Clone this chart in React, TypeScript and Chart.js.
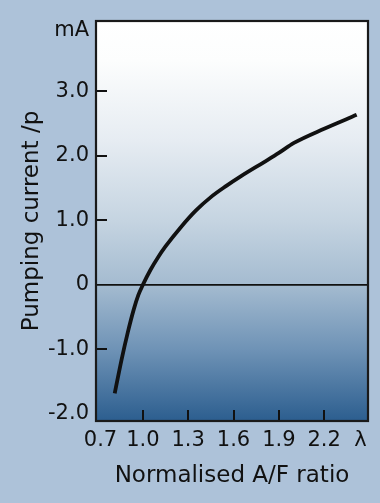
import React, { useEffect, useRef } from "react";
import { Chart, registerables } from "chart.js";

Chart.register(...registerables);

// Data
const lambdaValues = [0.814, 0.86, 0.9, 0.94, 0.97, 1.0, 1.05, 1.1, 1.15, 1.25, 1.35, 1.45, 1.55, 1.65, 1.8, 1.9, 2.0, 2.2, 2.415];
const pumpCurrent = [-1.68, -1.15, -0.74, -0.38, -0.16, 0.0, 0.23, 0.425, 0.595, 0.89, 1.15, 1.36, 1.53, 1.685, 1.9, 2.045, 2.2, 2.42, 2.635];

const xTickValues = [0.72, 1.0, 1.3, 1.6, 1.9, 2.2, 2.44];
const xTickLabels = ["0.7", "1.0", "1.3", "1.6", "1.9", "2.2", "λ"];
const xTickMarks = [1.0, 1.3, 1.6, 1.9, 2.2];

const yTickValues = [-2, -1, 0, 1, 2, 3, 3.94];
const yTickLabels = ["-2.0", "-1.0", "0", "1.0", "2.0", "3.0", "mA"];
const yTickMarks = [-1, 1, 2, 3];

const xTitle = "Normalised A/F ratio";
const yTitle = "Pumping current /p";

const FONT = "'DejaVu Sans', sans-serif";

const framePlugin = {
  id: "frame",
  beforeDatasetsDraw(chart: any) {
    const { ctx, chartArea: a, scales } = chart;
    ctx.save();
    const g = ctx.createLinearGradient(0, a.top, 0, a.bottom);
    g.addColorStop(0, "#ffffff");
    g.addColorStop(0.1, "#fcfdfd");
    g.addColorStop(0.3, "#e6ecf2");
    g.addColorStop(0.5, "#c5d4e1");
    g.addColorStop(0.66, "#a4bbd0");
    g.addColorStop(0.82, "#6f93b6");
    g.addColorStop(1, "#2c5e8f");
    ctx.fillStyle = g;
    ctx.fillRect(a.left, a.top, a.right - a.left, a.bottom - a.top);
    // zero line
    const y0 = scales.y.getPixelForValue(0);
    ctx.strokeStyle = "#111";
    ctx.lineWidth = 1.6;
    ctx.beginPath();
    ctx.moveTo(a.left, y0);
    ctx.lineTo(a.right, y0);
    ctx.stroke();
    ctx.restore();
  },
  afterDatasetsDraw(chart: any) {
    const { ctx, chartArea: a, scales } = chart;
    ctx.save();
    ctx.strokeStyle = "#111";
    ctx.lineWidth = 2;
    ctx.beginPath();
    for (const v of xTickMarks) {
      const x = Math.round(scales.x.getPixelForValue(v));
      ctx.moveTo(x, a.bottom);
      ctx.lineTo(x, a.bottom - 11);
    }
    for (const v of yTickMarks) {
      const y = Math.round(scales.y.getPixelForValue(v));
      ctx.moveTo(a.left, y);
      ctx.lineTo(a.left + 11, y);
    }
    ctx.stroke();
    ctx.strokeStyle = "#1a1a1a";
    ctx.lineWidth = 2.2;
    ctx.strokeRect(a.left, a.top, a.right - a.left, a.bottom - a.top);
    ctx.restore();
  },
};

export default function App() {
  const ref = useRef<HTMLCanvasElement | null>(null);
  useEffect(() => {
    if (!ref.current) return;
    const chart = new Chart(ref.current, {
      type: "scatter",
      data: {
        datasets: [
          {
            data: lambdaValues.map((x, i) => ({ x, y: pumpCurrent[i] })),
            showLine: true,
            borderColor: "#111111",
            borderWidth: 3.8,
            pointRadius: 0,
            cubicInterpolationMode: "monotone",
            borderCapStyle: "butt",
            fill: false,
          },
        ],
      },
      options: {
        animation: false,
        responsive: false,
        layout: { padding: { top: 21, right: 12, left: 0, bottom: 0 } },
        plugins: { legend: { display: false }, tooltip: { enabled: false } },
        scales: {
          x: {
            type: "linear",
            min: 0.69,
            max: 2.49,
            grid: { display: false, drawTicks: false },
            border: { display: false },
            afterBuildTicks: (s: any) => {
              s.ticks = xTickValues.map((v) => ({ value: v }));
            },
            afterFit: (s: any) => {
              s.height = 82;
            },
            ticks: {
              autoSkip: false,
              maxRotation: 0,
              padding: 7,
              color: "#111",
              font: { family: FONT, size: 21 },
              callback: (_v: any, i: number) => xTickLabels[i],
            },
            title: {
              display: true,
              text: xTitle,
              color: "#111",
              font: { family: FONT, size: 23 },
              padding: { top: 0, bottom: 13 },
            },
          },
          y: {
            type: "linear",
            min: -2.11,
            max: 4.09,
            grid: { display: false, drawTicks: false },
            border: { display: false },
            afterBuildTicks: (s: any) => {
              s.ticks = yTickValues.map((v) => ({ value: v }));
            },
            afterFit: (s: any) => {
              s.width = 96;
            },
            ticks: {
              autoSkip: false,
              padding: 7,
              color: "#111",
              font: { family: FONT, size: 21 },
              callback: (_v: any, i: number) => yTickLabels[i],
            },
            title: {
              display: true,
              text: yTitle,
              color: "#111",
              font: { family: FONT, size: 23 },
              padding: { top: 18, bottom: 0 },
            },
          },
        },
      },
      plugins: [framePlugin],
    } as any);
    return () => chart.destroy();
  }, []);

  return (
    <div
      style={{
        position: "absolute",
        left: 0,
        top: 0,
        width: 380,
        height: 503,
        background: "#adc2d9",
      }}
    >
      <canvas ref={ref} width={380} height={503} style={{ display: "block" }} />
    </div>
  );
}
